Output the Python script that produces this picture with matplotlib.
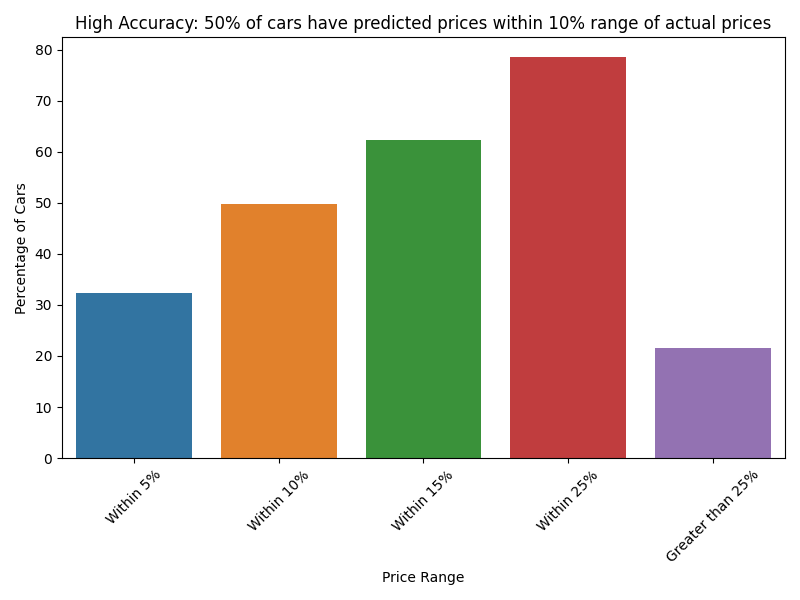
import matplotlib
matplotlib.use("Agg")
import matplotlib.pyplot as plt
import seaborn as sns
import pandas as pd

categories = ["Within 5%", "Within 10%", "Within 15%", "Within 25%", "Greater than 25%"]
values = [32.3, 49.7, 62.4, 78.5, 21.5]

df = pd.DataFrame({"Price Range": categories, "Percentage of Cars": values})
fig, ax = plt.subplots(figsize=(8, 6), dpi=100)
sns.barplot(data=df, x="Price Range", y="Percentage of Cars", hue="Price Range",
            palette="tab10", saturation=0.75, legend=False, ax=ax)
ax.set_title("High Accuracy: 50% of cars have predicted prices within 10% range of actual prices")
plt.xticks(rotation=45)
plt.tight_layout()
plt.savefig("out.png")
